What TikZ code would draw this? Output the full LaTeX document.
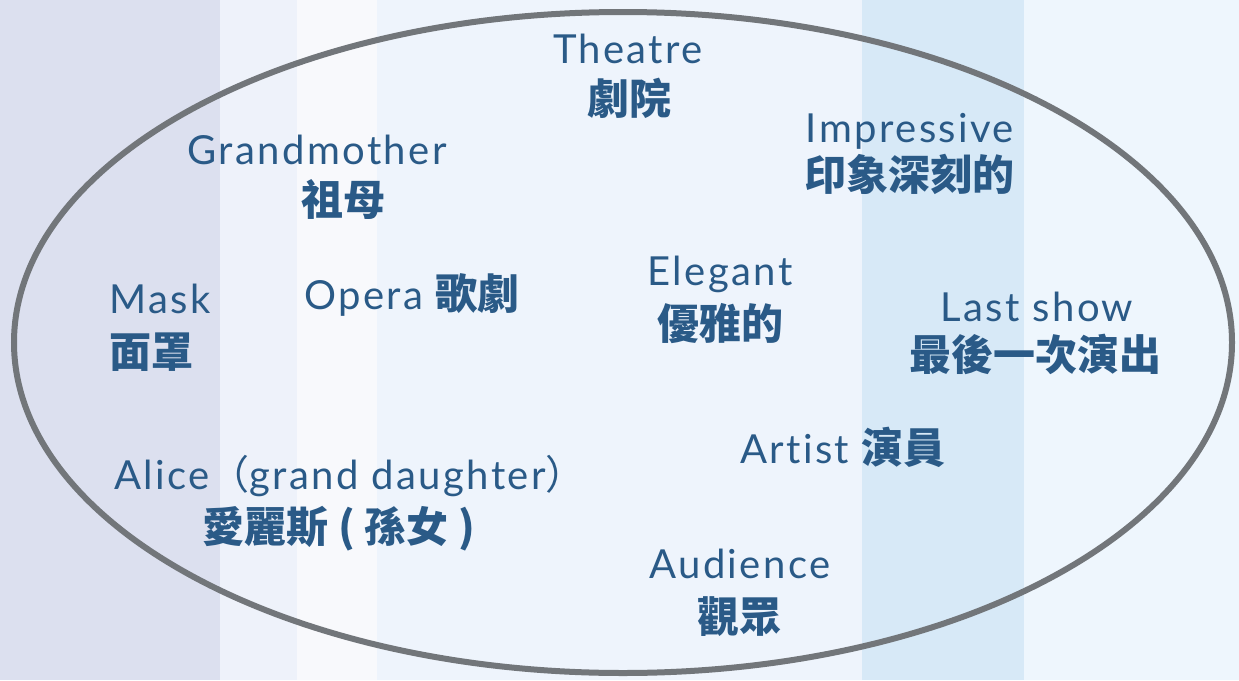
\documentclass[tikz,border=0pt]{standalone}
\usepackage{fontspec}
\setmainfont{Lato}[LetterSpace=6,Ligatures=NoCommon]
\newfontfamily\cjk{Noto Sans CJK TC}
\newcommand{\zhb}[1]{{\fontsize{42}{50}\selectfont\cjk\bfseries #1}}
\definecolor{txt}{HTML}{2A5A87}
\definecolor{ring}{HTML}{72767A}
\definecolor{bgA}{HTML}{DCE0EF}
\definecolor{bgB}{HTML}{EEF2FA}
\definecolor{bgC}{HTML}{F8F9FC}
\definecolor{bgD}{HTML}{EEF4FC}
\definecolor{bgE}{HTML}{D7E9F7}
\definecolor{bgF}{HTML}{EEF6FD}
\begin{document}
\begin{tikzpicture}[x=1pt,y=-1pt,
  en/.style={font=\fontsize{40}{48}\selectfont, text=txt, inner sep=0pt, anchor=base},
  zh/.style={font=\fontsize{42}{50}\selectfont\cjk\bfseries, text=txt, inner sep=0pt, anchor=base},
  ringline/.style={line width=6pt, draw=ring}]
\useasboundingbox (0,0) rectangle (1239,680);
\fill[bgA] (0,0) rectangle (220,680);
\fill[bgB] (220,0) rectangle (297,680);
\fill[bgC] (297,0) rectangle (377,680);
\fill[bgD] (377,0) rectangle (862,680);
\fill[bgE] (862,0) rectangle (1024,680);
\fill[bgF] (1024,0) rectangle (1239,680);
\draw[ringline] (623,342.5) ellipse [x radius=609, y radius=330.5];

\node[en] (theatreEn) at (628,63) {Theatre};
\node[zh] (theatreZh) at (629,114) {劇院};
\node[en] (grandEn) at (317,164) {Grandmother};
\node[zh] (grandZh) at (343,215) {祖母};
\node[en] (impEn) at (910,142) {Impressive};
\node[zh] (impZh) at (909,190) {印象深刻的};
\node[en] (maskEn) at (160,313) {Mask};
\node[zh] (maskZh) at (151,367) {面罩};
\node[en] (opera) at (412,309) {Opera \zhb{歌劇}};
\node[en] (elegEn) at (720,285) {Elegant};
\node[zh] (elegZh) at (720,339) {優雅的};
\node[en] (lastEn) at (1037,321) {Last show};
\node[zh] (lastZh) at (1035,370) {最後一次演出};
\node[en] (artist) at (843,463) {Artist \zhb{演員}};
\node[en] (aliceEn) at (350,489) {Alice{\cjk （}grand daughter{\cjk ）}};
\node[zh] (aliceZh) at (339,542) {愛麗斯 ( 孫女 )};
\node[en] (audEn) at (740,578) {Audience};
\node[zh] (audZh) at (739,632) {觀眾};
\end{tikzpicture}
\end{document}
